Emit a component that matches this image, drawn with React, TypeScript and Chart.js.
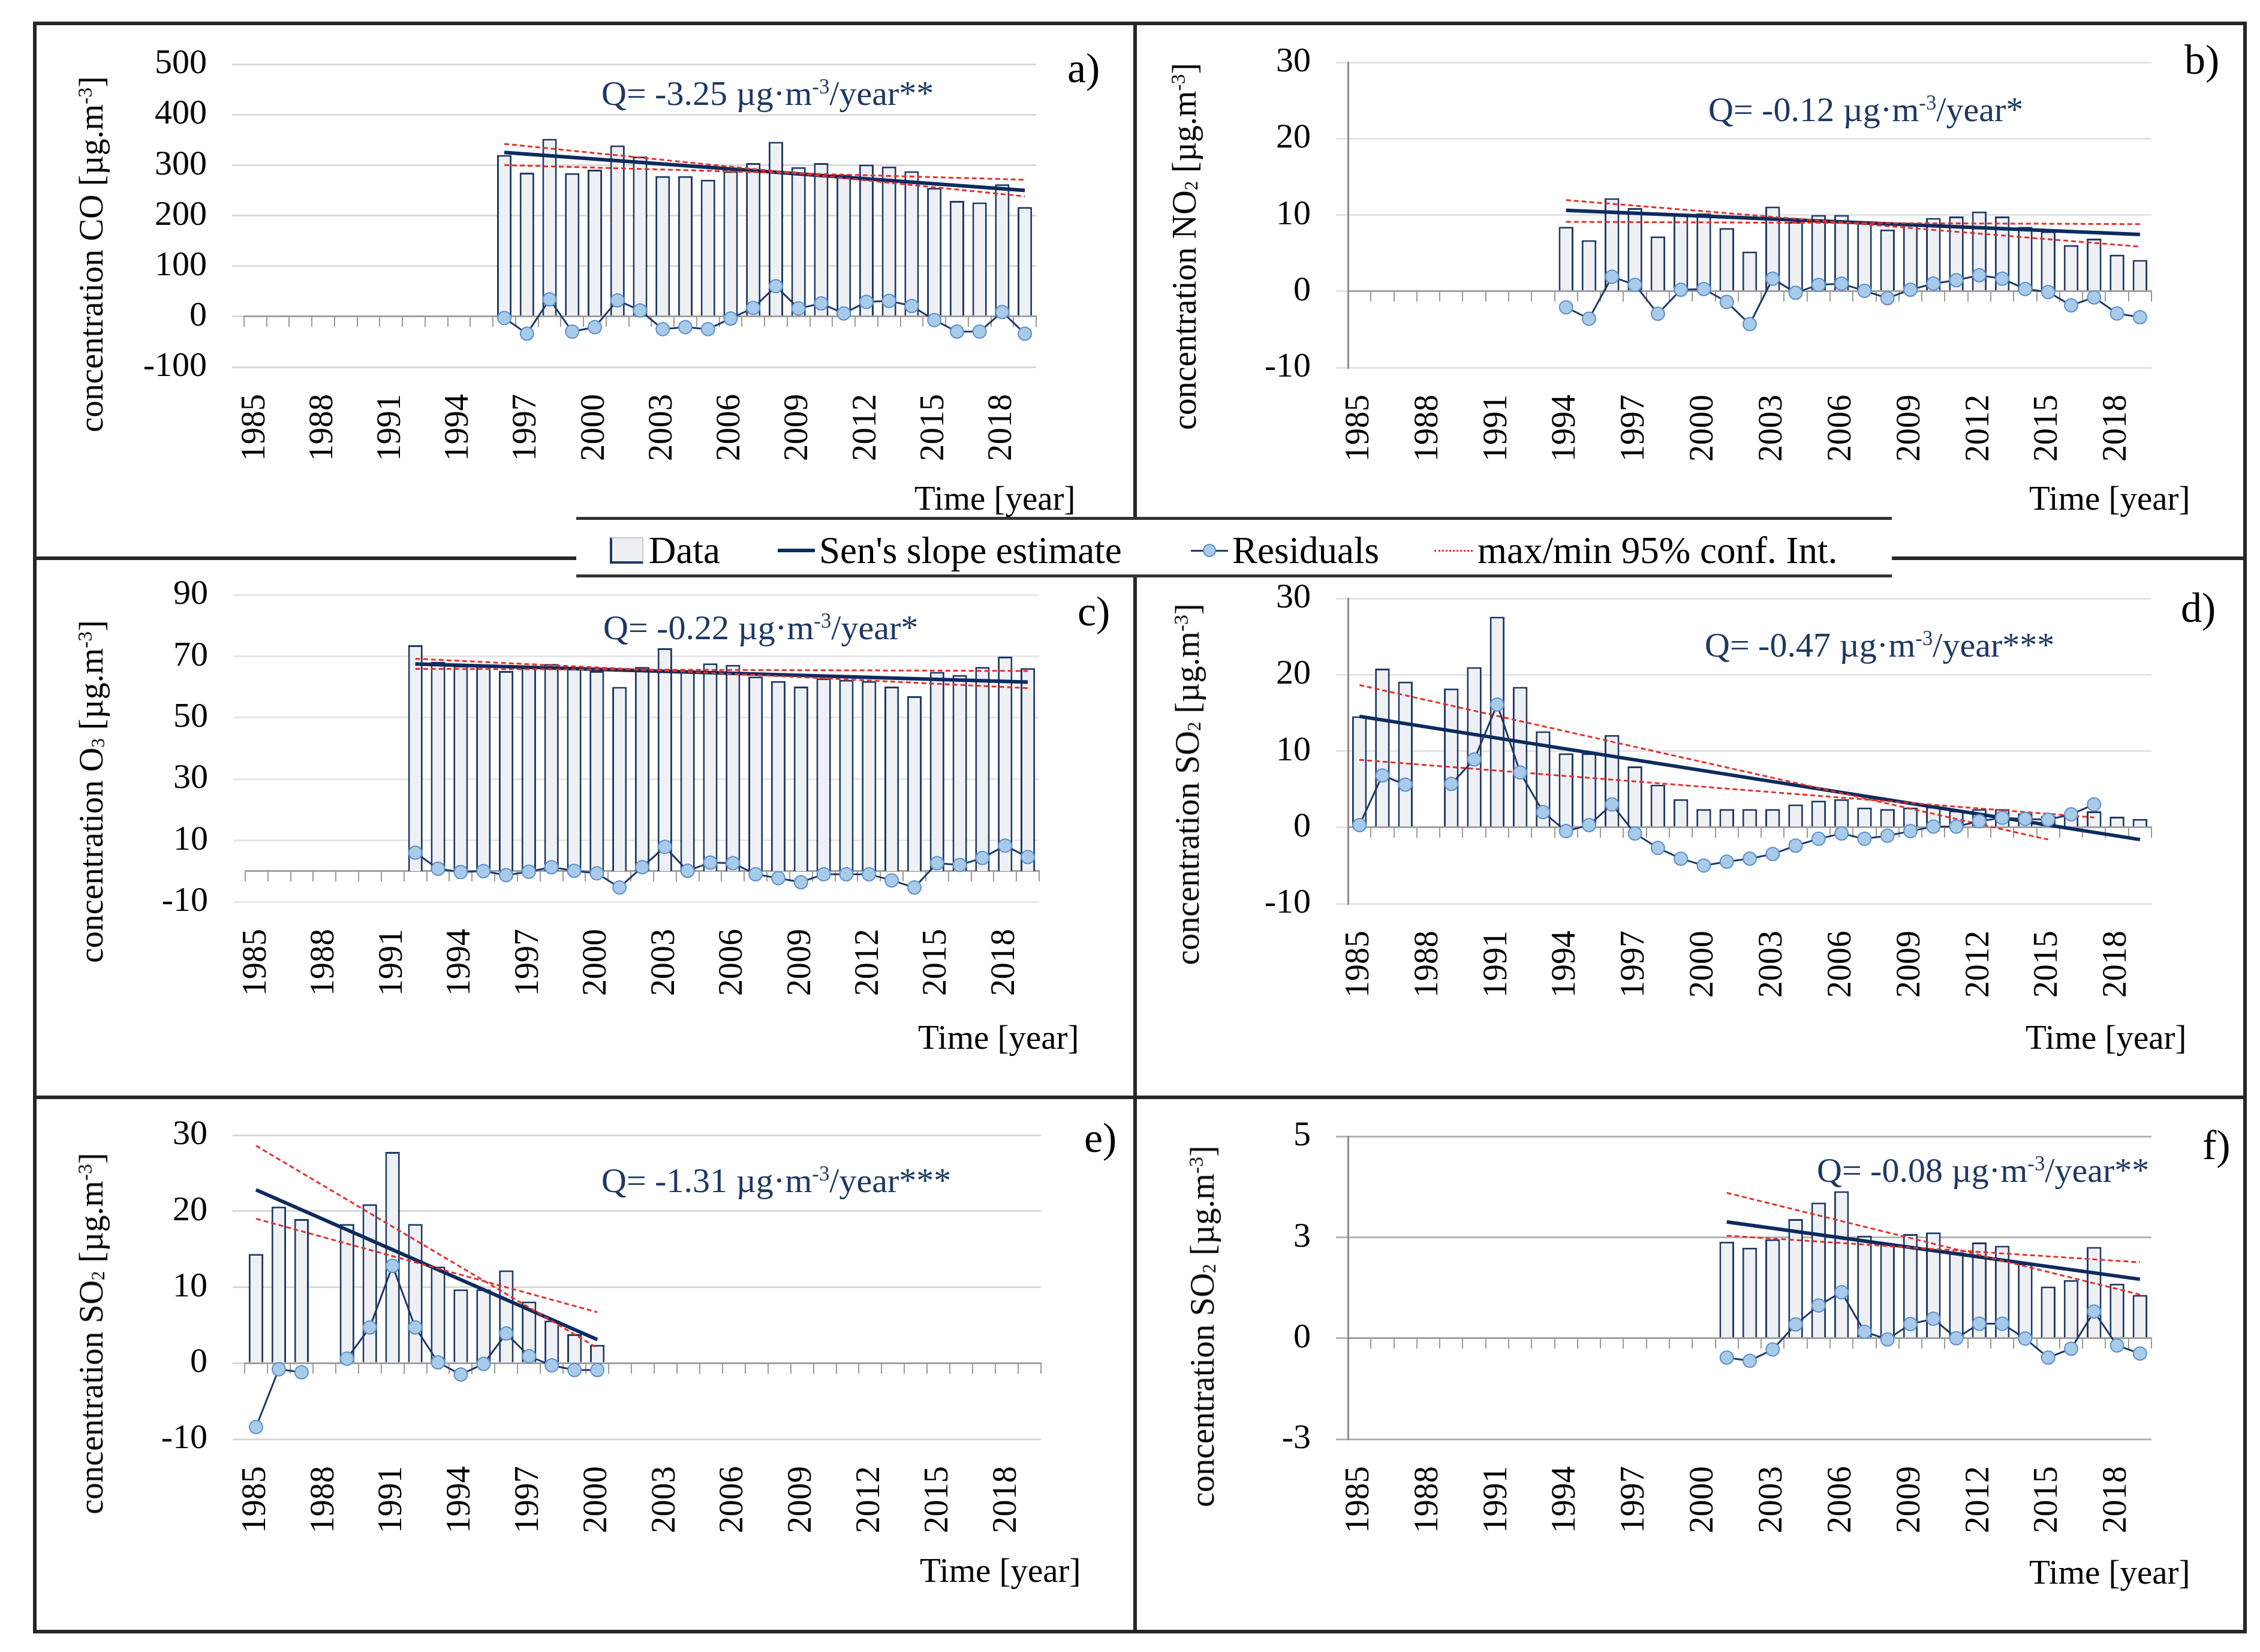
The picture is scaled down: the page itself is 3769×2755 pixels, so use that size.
import React, { useEffect, useRef } from 'react';
import { Chart, registerables } from 'chart.js';
Chart.register(...registerables);

const FONT = "'Liberation Serif', 'Times New Roman', serif";

// ---------- categories ----------
const years = ['1985', '1986', '1987', '1988', '1989', '1990', '1991', '1992', '1993', '1994', '1995', '1996', '1997', '1998', '1999', '2000', '2001', '2002', '2003', '2004', '2005', '2006', '2007', '2008', '2009', '2010', '2011', '2012', '2013', '2014', '2015', '2016', '2017', '2018', '2019'];
const xTickLabels = ['1985', '1988', '1991', '1994', '1997', '2000', '2003', '2006', '2009', '2012', '2015', '2018'];

// ---------- a) CO ----------
const coStart = '1996';
const coData = [320, 285, 352, 284, 291, 339, 317, 278, 278, 271, 288, 304, 346, 296, 304, 281, 301, 297, 288, 255, 229, 226, 262, 217];
const coResid = [-3, -34, 34, -30, -21, 32, 12, -25, -21, -25, -4, 17, 60, 16, 26, 6, 29, 31, 21, -7, -30, -30, 9, -34];
const coSenYears = ['1996', '2019'];
const coSen = [325, 250];
const coConfMaxYears = ['1996', '2019'];
const coConfMax = [342, 238];
const coConfMinYears = ['1996', '2019'];
const coConfMin = [300, 271];
const coTicks = [-100, 0, 100, 200, 300, 400, 500];
const coTickLabels = ['-100', '0', '100', '200', '300', '400', '500'];

// ---------- b) NO2 ----------
const no2Start = '1994';
const no2Data = [8.45, 6.7, 12.2, 10.9, 7.2, 10.1, 10.2, 8.3, 5.2, 11.1, 9.1, 10.0, 10.0, 9.0, 8.1, 8.9, 9.6, 9.8, 10.45, 9.8, 8.45, 7.85, 6.05, 6.9, 4.8, 4.1];
const no2Resid = [-2.1, -3.6, 1.9, 0.85, -2.95, 0.2, 0.3, -1.4, -4.3, 1.65, -0.2, 0.85, 1.0, 0.05, -0.9, 0.2, 1.0, 1.45, 2.1, 1.65, 0.3, -0.1, -1.85, -0.8, -2.9, -3.4];
const no2SenYears = ['1994', '2019'];
const no2Sen = [10.6, 7.45];
const no2ConfMaxYears = ['1994', '2019'];
const no2ConfMax = [11.95, 5.85];
const no2ConfMinYears = ['1994', '2019'];
const no2ConfMin = [9.1, 8.8];
const no2Ticks = [-10, 0, 10, 20, 30];
const no2TickLabels = ['-10', '0', '10', '20', '30'];

// ---------- c) O3 ----------
const o3Start = '1992';
const o3Data = [73.6, 68.2, 66.9, 66.8, 65.2, 66.4, 67.5, 66.0, 65.2, 60.0, 66.5, 72.6, 65.0, 67.7, 67.2, 63.4, 61.9, 60.1, 62.8, 62.3, 61.9, 60.1, 57.0, 64.9, 63.9, 66.5, 69.9, 66.1];
const o3Resid = [6.0, 0.8, -0.3, 0.0, -1.3, -0.2, 1.3, 0.1, -0.7, -5.3, 1.3, 7.9, 0.1, 2.8, 2.6, -1.0, -2.3, -3.6, -1.0, -1.0, -1.0, -3.0, -5.3, 2.6, 2.0, 4.3, 8.3, 4.6];
const o3SenYears = ['1992', '2019'];
const o3Sen = [67.5, 61.6];
const o3ConfMaxYears = ['1992', '2019'];
const o3ConfMax = [69.2, 59.6];
const o3ConfMinYears = ['1992', '2019'];
const o3ConfMin = [65.9, 65.2];
const o3Ticks = [-10, 10, 30, 50, 70, 90];
const o3TickLabels = ['-10', '10', '30', '50', '70', '90'];

// ---------- d) SO2 (1985-2019) ----------
const so2dStart = '1985';
const so2dData = [14.55, 20.8, 19.1, null, 18.2, 21.0, 27.6, 18.4, 12.6, 9.7, 9.7, 12.1, 8.0, 5.6, 3.7, 2.4, 2.4, 2.4, 2.4, 3.0, 3.5, 3.7, 2.6, 2.4, 2.6, 2.7, 2.2, 2.4, 2.4, 1.85, 1.5, 1.45, 2.1, 1.4, 1.1];
const so2dResid = [0.3, 6.8, 5.6, null, 5.7, 8.9, 16.1, 7.2, 2.0, -0.5, 0.3, 3.0, -0.8, -2.7, -4.1, -5.0, -4.5, -4.1, -3.5, -2.4, -1.5, -0.8, -1.5, -1.1, -0.5, 0.1, 0.1, 0.8, 1.25, 1.1, 1.0, 1.7, 3.0];
const so2dSenYears = ['1985', '2019'];
const so2dSen = [14.55, -1.6];
const so2dConfMaxYears = ['1985', '2015'];
const so2dConfMax = [18.65, -1.6];
const so2dConfMinYears = ['1985', '2017'];
const so2dConfMin = [8.85, 1.3];
const so2Ticks = [-10, 0, 10, 20, 30];
const so2TickLabels = ['-10', '0', '10', '20', '30'];

// ---------- e) SO2 (1985-2000) ----------
const so2eStart = '1985';
const so2eData = [14.35, 20.6, 18.95, null, 18.3, 20.9, 27.8, 18.3, 12.7, 9.7, 9.7, 12.2, 8.1, 5.6, 3.8, 2.4];
const so2eResid = [-8.4, -0.8, -1.2, null, 0.6, 4.7, 12.8, 4.7, 0.1, -1.5, -0.1, 3.9, 0.9, -0.3, -0.9, -0.9];
const so2eSenYears = ['1985', '2000'];
const so2eSen = [22.8, 3.1];
const so2eConfMaxYears = ['1985', '2000'];
const so2eConfMax = [28.6, 2.0];
const so2eConfMinYears = ['1985', '2000'];
const so2eConfMin = [19.0, 6.7];

// ---------- f) SO2 (2001-2019) ----------
const so2fStart = '2001';
const so2fData = [2.39, 2.24, 2.45, 2.95, 3.36, 3.64, 2.54, 2.35, 2.58, 2.62, 2.13, 2.37, 2.29, 1.85, 1.28, 1.44, 2.26, 1.35, 1.07];
const so2fResid = [-0.48, -0.56, -0.28, 0.34, 0.81, 1.14, 0.16, -0.03, 0.35, 0.48, 0.0, 0.36, 0.36, -0.01, -0.48, -0.26, 0.66, -0.18, -0.38];
const so2fSenYears = ['2001', '2019'];
const so2fSen = [2.88, 1.46];
const so2fConfMaxYears = ['2001', '2019'];
const so2fConfMax = [3.6, 1.08];
const so2fConfMinYears = ['2001', '2019'];
const so2fConfMin = [2.54, 1.88];
const so2fTicks = [-2.5, 0, 2.5, 5];
const so2fTickLabels = ['-3', '0', '3', '5'];

// ---------- helpers ----------
function align(start: string, vals: (number | null)[]) {
  const off = years.indexOf(start);
  return years.map((_, i) => (i >= off && i - off < vals.length ? vals[i - off] : null));
}
function seg(ys: string[], vs: number[]) {
  return ys.map((y, i) => ({ x: y, y: vs[i] }));
}

type PanelDef = {
  id: string;
  plot: { l: number; r: number; t: number; b: number };
  yMin: number; yMax: number; ticks: number[]; tickLabels: string[];
  data: (number | null)[]; resid: (number | null)[];
  sen: { x: string; y: number }[]; cmax: { x: string; y: number }[]; cmin: { x: string; y: number }[];
  yBorder: boolean; grid: string;
};

const panels: PanelDef[] = [
  { id: 'a', plot: { l: 407, r: 1728, t: 107, b: 612 }, yMin: -100, yMax: 500, ticks: coTicks, tickLabels: coTickLabels,
    data: align(coStart, coData), resid: align(coStart, coResid), sen: seg(coSenYears, coSen), cmax: seg(coConfMaxYears, coConfMax), cmin: seg(coConfMinYears, coConfMin), yBorder: false, grid: '#D9D9D9' },
  { id: 'b', plot: { l: 2248, r: 3588, t: 104, b: 613 }, yMin: -10, yMax: 30, ticks: no2Ticks, tickLabels: no2TickLabels,
    data: align(no2Start, no2Data), resid: align(no2Start, no2Resid), sen: seg(no2SenYears, no2Sen), cmax: seg(no2ConfMaxYears, no2ConfMax), cmin: seg(no2ConfMinYears, no2ConfMin), yBorder: true, grid: '#E3E3E3' },
  { id: 'c', plot: { l: 409, r: 1733, t: 992, b: 1504 }, yMin: -10, yMax: 90, ticks: o3Ticks, tickLabels: o3TickLabels,
    data: align(o3Start, o3Data), resid: align(o3Start, o3Resid), sen: seg(o3SenYears, o3Sen), cmax: seg(o3ConfMaxYears, o3ConfMax), cmin: seg(o3ConfMinYears, o3ConfMin), yBorder: false, grid: '#E6E6E6' },
  { id: 'd', plot: { l: 2248, r: 3588, t: 998, b: 1507 }, yMin: -10, yMax: 30, ticks: so2Ticks, tickLabels: so2TickLabels,
    data: align(so2dStart, so2dData), resid: align(so2dStart, so2dResid), sen: seg(so2dSenYears, so2dSen), cmax: seg(so2dConfMaxYears, so2dConfMax), cmin: seg(so2dConfMinYears, so2dConfMin), yBorder: true, grid: '#E3E3E3' },
  { id: 'e', plot: { l: 408, r: 1736, t: 1893, b: 2400 }, yMin: -10, yMax: 30, ticks: so2Ticks, tickLabels: so2TickLabels,
    data: align(so2eStart, so2eData), resid: align(so2eStart, so2eResid), sen: seg(so2eSenYears, so2eSen), cmax: seg(so2eConfMaxYears, so2eConfMax), cmin: seg(so2eConfMinYears, so2eConfMin), yBorder: false, grid: '#D9D9D9' },
  { id: 'f', plot: { l: 2248, r: 3588, t: 1895, b: 2400 }, yMin: -2.5, yMax: 5, ticks: so2fTicks, tickLabels: so2fTickLabels,
    data: align(so2fStart, so2fData), resid: align(so2fStart, so2fResid), sen: seg(so2fSenYears, so2fSen), cmax: seg(so2fConfMaxYears, so2fConfMax), cmin: seg(so2fConfMinYears, so2fConfMin), yBorder: true, grid: '#B3B3B3' },
];

const PAD_L = 260, PAD_T = 90, PAD_R = 110, PAD_B = 220;

function PanelChart({ p }: { p: PanelDef }) {
  const ref = useRef<HTMLCanvasElement | null>(null);
  const w = p.plot.r - p.plot.l + PAD_L + PAD_R;
  const h = p.plot.b - p.plot.t + PAD_T + PAD_B;
  useEffect(() => {
    if (!ref.current) return;
    const chart = new Chart(ref.current, {
      type: 'bar',
      data: {
        labels: years,
        datasets: [
          { type: 'line', label: 'Residuals', data: p.resid as any, borderColor: '#1F3864', borderWidth: 3, pointRadius: 11, pointBackgroundColor: '#A9CBEA', pointBorderColor: '#5F93CC', pointBorderWidth: 2, spanGaps: false, order: 1, xAxisID: 'x', yAxisID: 'y' } as any,
          { type: 'line', label: 'max', data: p.cmax as any, borderColor: '#E5302A', borderWidth: 3, borderDash: [8, 5], pointRadius: 0, order: 2, xAxisID: 'x', yAxisID: 'y' } as any,
          { type: 'line', label: 'min', data: p.cmin as any, borderColor: '#E5302A', borderWidth: 3, borderDash: [8, 5], pointRadius: 0, order: 2, xAxisID: 'x', yAxisID: 'y' } as any,
          { type: 'line', label: "Sen's slope estimate", data: p.sen as any, borderColor: '#0D2B5E', borderWidth: 6, pointRadius: 0, order: 3, xAxisID: 'x', yAxisID: 'y' } as any,
          { type: 'bar', label: 'Data', data: p.data as any, backgroundColor: '#EEF0F4', borderColor: '#1F3864', borderWidth: 3, barPercentage: 0.64, categoryPercentage: 1, order: 4, xAxisID: 'x', yAxisID: 'y' } as any,
        ],
      },
      options: {
        animation: false,
        responsive: false,
        devicePixelRatio: 1,
        layout: { padding: { top: PAD_T, right: PAD_R, left: 0, bottom: 0 } },
        plugins: { legend: { display: false }, tooltip: { enabled: false } },
        scales: {
          x: {
            type: 'category', position: 'bottom', offset: true,
            grid: { display: false, drawTicks: false },
            border: { display: false },
            ticks: {
              autoSkip: false, maxRotation: 90, minRotation: 90, padding: 45, color: '#000',
              font: { family: FONT, size: 56 },
              callback: (_v: any, i: number) => (xTickLabels.includes(years[i]) ? years[i] : ''),
            },
            afterFit: (s: any) => { s.height = PAD_B; },
          },
          x0: {
            type: 'category', position: { y: 0 } as any, offset: true,
            grid: { display: true, drawOnChartArea: false, drawTicks: true, tickLength: 16, color: '#9A9A9A', lineWidth: 2, offset: true },
            border: { display: true, color: '#A0A0A0', width: 3 },
            ticks: { display: false },
          } as any,
          y: {
            type: 'linear', position: 'left', min: p.yMin, max: p.yMax,
            afterBuildTicks: (s: any) => { s.ticks = p.ticks.map((v) => ({ value: v })); },
            grid: { color: p.grid, lineWidth: 3, drawTicks: true, tickLength: 20 },
            border: { display: p.yBorder, color: '#8C8C8C', width: 3 },
            ticks: {
              padding: 42, color: '#000', font: { family: FONT, size: 58 },
              callback: (v: any) => { const k = p.ticks.indexOf(Number(v)); return k >= 0 ? p.tickLabels[k] : ''; },
            },
            afterFit: (s: any) => { s.width = PAD_L; },
          },
        },
      } as any,
    });
    return () => chart.destroy();
  }, []);
  return (
    <canvas ref={ref} width={w} height={h}
      style={{ position: 'absolute', left: p.plot.l - PAD_L, top: p.plot.t - PAD_T, width: w, height: h }} />
  );
}

const supS: React.CSSProperties = { fontSize: '0.6em', position: 'relative', top: '-0.55em' };
const subS: React.CSSProperties = { fontSize: '0.55em', position: 'relative', top: '0.1em' };

type Ann = { id: string; species: React.ReactNode; tx: number; ty: number; qx: number; qy: number; q: string; star: string; lx: number; ly: number; timeX: number; timeY: number };
const anns: Ann[] = [
  { id: 'a', species: <>CO</>, tx: 152, ty: 424, qx: 1003, qy: 156, q: '-3.25', star: '**', lx: 1780, ly: 114, timeX: 1525, timeY: 830 },
  { id: 'b', species: <>NO<span style={subS}>2</span></>, tx: 1975, ty: 411, qx: 2849, qy: 183, q: '-0.12', star: '*', lx: 3643, ly: 100, timeX: 3384, timeY: 830 },
  { id: 'c', species: <>O<span style={subS}>3</span></>, tx: 152, ty: 1320, qx: 1006, qy: 1047, q: '-0.22', star: '*', lx: 1797, ly: 1020, timeX: 1531, timeY: 1729 },
  { id: 'd', species: <>SO<span style={subS}>2</span></>, tx: 1980, ty: 1308, qx: 2843, qy: 1076, q: '-0.47', star: '***', lx: 3637, ly: 1014, timeX: 3378, timeY: 1729 },
  { id: 'e', species: <>SO<span style={subS}>2</span></>, tx: 152, ty: 2224, qx: 1003, qy: 1969, q: '-1.31', star: '***', lx: 1808, ly: 1898, timeX: 1534, timeY: 2618 },
  { id: 'f', species: <>SO<span style={subS}>2</span></>, tx: 2005, ty: 2212, qx: 3030, qy: 1952, q: '-0.08', star: '**', lx: 3673, ly: 1910, timeX: 3384, timeY: 2621 },
];

const txt = (x: number, y: number, size: number, extra: React.CSSProperties = {}): React.CSSProperties => ({
  position: 'absolute', left: x, top: y, transform: 'translateY(-50%)', fontSize: size, lineHeight: 1,
  fontFamily: FONT, whiteSpace: 'nowrap', color: '#000', ...extra,
});

export default function App() {
  const frame = '#262626';
  return (
    <div style={{ position: 'absolute', left: 0, top: 0, width: 3769, height: 2755, background: '#fff', overflow: 'hidden', fontFamily: FONT }}>
      {panels.map((p) => <PanelChart key={p.id} p={p} />)}
      {anns.map((a) => (
        <React.Fragment key={a.id}>
          <div style={{ position: 'absolute', left: a.tx, top: a.ty, transform: 'translate(-50%,-50%) rotate(-90deg)', fontSize: 56, lineHeight: 1, fontFamily: FONT, whiteSpace: 'nowrap' }}>
            concentration {a.species} [µg.m<span style={supS}>-3</span>]
          </div>
          <div style={txt(a.qx, a.qy, 58, { color: '#1F3864' })}>
            Q= {a.q} µg·m<span style={supS}>-3</span>/year{a.star}
          </div>
          <div style={txt(a.lx, a.ly, 70)}>{a.id})</div>
          <div style={txt(a.timeX, a.timeY, 57)}>Time [year]</div>
        </React.Fragment>
      ))}
      {/* frame */}
      <div style={{ position: 'absolute', left: 55, top: 36, width: 3692, height: 2688, border: `6px solid ${frame}`, boxSizing: 'border-box' }} />
      <div style={{ position: 'absolute', left: 1890, top: 36, width: 6, height: 2688, background: frame }} />
      <div style={{ position: 'absolute', left: 55, top: 928, width: 3692, height: 6, background: frame }} />
      <div style={{ position: 'absolute', left: 55, top: 1827, width: 3692, height: 6, background: frame }} />
      {/* legend */}
      <div style={{ position: 'absolute', left: 961, top: 862, width: 2194, height: 101, background: '#fff', borderTop: '5px solid #333', borderBottom: '5px solid #333', boxSizing: 'border-box' }} />
      <div style={{ position: 'absolute', left: 1017, top: 896, width: 56, height: 44, background: '#EEF0F4', border: '2px solid #C4C8D0', borderLeft: '4px solid #1F3864', borderBottom: '4px solid #1F3864', boxSizing: 'border-box' }} />
      <div style={txt(1082, 918, 63)}>Data</div>
      <div style={{ position: 'absolute', left: 1297, top: 915, width: 62, height: 6, background: '#0D2B5E' }} />
      <div style={txt(1366, 918, 63)}>Sen's slope estimate</div>
      <div style={{ position: 'absolute', left: 1986, top: 917, width: 62, height: 3, background: '#1F3864' }} />
      <div style={{ position: 'absolute', left: 2006, top: 907, width: 22, height: 22, borderRadius: '50%', background: '#A9CBEA', border: '2px solid #5F93CC', boxSizing: 'border-box' }} />
      <div style={txt(2055, 918, 63)}>Residuals</div>
      <div style={{ position: 'absolute', left: 2392, top: 917, width: 64, height: 0, borderTop: '3px dotted #E5302A' }} />
      <div style={txt(2464, 918, 63)}>max/min 95% conf. Int.</div>
    </div>
  );
}
